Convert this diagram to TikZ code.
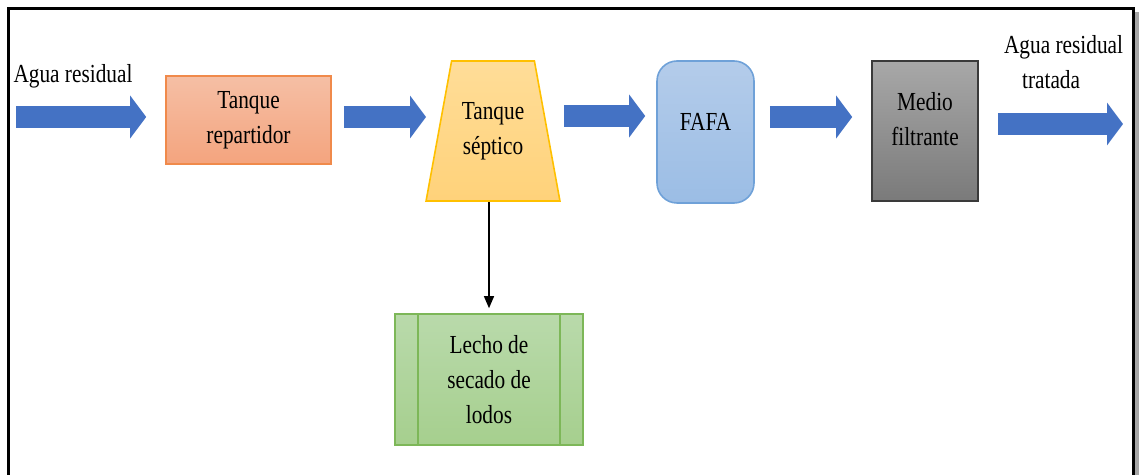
\documentclass[tikz,border=0pt]{standalone}
\usepackage{fontspec}
\setmainfont{Liberation Serif}[FakeStretch=0.82]
\usetikzlibrary{shapes.geometric,arrows.meta}
\definecolor{flowblue}{HTML}{4472C4}
\definecolor{reptop}{HTML}{F5BFA5}
\definecolor{repbot}{HTML}{F4A47E}
\definecolor{repline}{HTML}{F08A4B}
\definecolor{septop}{HTML}{FFDD98}
\definecolor{sepbot}{HTML}{FFD27A}
\definecolor{sepline}{HTML}{FFC000}
\definecolor{fafatop}{HTML}{B4CCEA}
\definecolor{fafabot}{HTML}{9BBDE5}
\definecolor{fafaline}{HTML}{6FA1D8}
\definecolor{medtop}{HTML}{A8A8A8}
\definecolor{medbot}{HTML}{7A7A7A}
\definecolor{medline}{HTML}{3A3A3A}
\definecolor{lectop}{HTML}{B9DAAB}
\definecolor{lecbot}{HTML}{A6CF8E}
\definecolor{lecline}{HTML}{7DB758}
\begin{document}
\begin{tikzpicture}[x=0.5pt,y=-0.5pt,
    font=\fontsize{13}{17.5}\selectfont,
    box/.style={draw, line width=0.8pt, inner sep=0pt, align=center},
    flow/.style={flowblue, line width=11pt, -{Triangle[length=8pt,width=21pt]}}]
        \useasboundingbox (0,0) rectangle (1139,475);
        \clip (0,0) rectangle (1139,475);
        \fill[black!35] (1134.5,12) rectangle (1139,475);
        \draw[line width=1.5pt] (8.5,480) -- (8.5,8.5) -- (1133,8.5) -- (1133,480);
        \node[box, draw=repline, top color=reptop, bottom color=repbot, minimum width=82.5pt, minimum height=44pt] (rep) at (248.5,120) {Tanque\\repartidor};
        \node[box, trapezium, trapezium stretches=true, trapezium left angle=71.5, trapezium right angle=71.5, draw=sepline, top color=septop, bottom color=sepbot, minimum width=67pt, minimum height=70pt] (sep) at (493,131) {Tanque\\séptico};
        \node[box, rounded corners=10pt, draw=fafaline, top color=fafatop, bottom color=fafabot, minimum width=48.5pt, minimum height=71pt, label={[yshift=5pt]center:FAFA}] (fafa) at (705.5,132) {};
        \node[box, draw=medline, top color=medtop, bottom color=medbot, minimum width=53pt, minimum height=70pt, label={[yshift=6pt, align=center]center:{Medio\\filtrante}}] (med) at (925,131) {};
        \node[box, draw=lecline, top color=lectop, bottom color=lecbot, minimum width=94pt, minimum height=65.5pt] (lecho) at (489,379.5) {Lecho de\\secado de\\lodos};
        \draw[lecline, line width=0.8pt] ([xshift=12pt]lecho.north west) -- ([xshift=12pt]lecho.south west);
        \draw[lecline, line width=0.8pt] ([xshift=-12pt]lecho.north east) -- ([xshift=-12pt]lecho.south east);
        \node (entrada) at (73,76) {Agua residual};
        \node[align=left, anchor=west] (salida) at (997,62) {Agua residual\\\hspace*{9pt}tratada};
        \coordinate (ini) at (16,117);
        \coordinate (fin) at (1123,124);
        \draw[flow, shorten >=9.5pt] (ini) -- (rep.west |- ini);
        \draw[flow, shorten <=6pt, shorten >=6pt] (rep.east |- 0,117) -- (sep.west |- 0,117);
        \draw[flow, shorten <=8pt, shorten >=5.5pt] (sep.east |- 0,116) -- (fafa.west |- 0,116);
        \draw[flow, shorten <=7.5pt, shorten >=9.5pt] (fafa.east |- 0,117) -- (med.west |- 0,117);
        \draw[flow, shorten <=9.5pt] (med.east |- fin) -- (fin);
        \draw[line width=0.6pt, -{Triangle[length=6pt,width=5pt]}, shorten >=2.5pt] (lecho.north |- sep.south) -- (lecho.north);
      \end{tikzpicture}
\end{document}
